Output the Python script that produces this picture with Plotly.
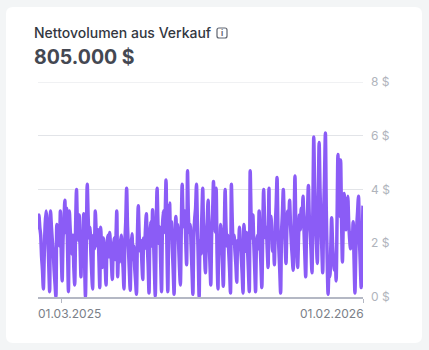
import plotly.graph_objects as go
from datetime import date, timedelta

START = date(2025, 2, 3)
values = [
 2.5,3.05,2.6,2.3,1.5,1.0,0.3,1.6,2.7,3.2,
 2.9,2.2,1.2,0.2,3.2,2.6,2.1,1.7,1.0,0.5,
 0,2.7,2.1,2.6,1.9,3.2,1.6,0.6,2.2,2.8,
 3.6,2.4,3.3,1.8,0.2,3.2,2.5,2.0,1.6,2.3,
 1.1,0.45,2.6,4.0,2.7,2.1,3.05,1.9,0.75,2.4,
 2.0,3.1,1.4,0,2.1,4.2,3.0,2.2,2.6,1.7,
 0.9,0.3,2.3,1.8,3.2,2.4,1.9,2.5,1.5,0.35,
 2.6,1.8,1.1,2.2,1.6,1.2,0.45,1.9,2.3,1.5,
 2.4,1.9,1.3,0.65,1.8,2.2,1.4,2.1,3.2,0.75,
 1.7,1.3,2.0,2.3,1.6,1.1,0.3,2.0,2.8,4.05,
 2.6,1.8,1.0,0.25,1.9,2.35,1.4,1.9,1.1,0.6,
 0.1,2.2,3.4,2.3,1.7,2.1,1.3,0.65,2.2,1.8,
 2.5,3.1,2.0,1.2,0.15,2.3,2.8,1.9,3.25,2.2,
 1.0,0.03,2.4,4.05,2.7,2.0,2.6,1.3,0.2,2.6,
 3.2,2.4,3.0,4.35,1.8,0.2,2.6,3.5,2.2,2.8,
 1.8,1.0,0.1,2.2,3.0,2.3,2.7,2.0,1.1,0.45,
 2.4,4.2,3.0,2.6,3.2,2.1,1.2,4.7,3.0,2.4,
 2.7,1.9,1.0,0.1,2.2,2.9,3.3,4.2,2.8,1.4,
 0,2.1,1.6,3.0,4.05,2.3,1.6,0.9,2.2,2.8,
 3.6,2.2,1.3,0.45,2.4,3.1,4.3,2.9,2.4,4.05,
 1.6,0.3,2.0,1.7,2.7,2.0,1.2,0.4,2.2,4.0,
 2.6,1.9,2.3,1.7,1.0,0.15,4.2,2.8,2.0,2.3,
 1.7,1.2,0.55,2.1,1.8,2.6,2.0,1.5,0.9,0.15,
 2.7,2.1,1.7,2.4,1.8,1.0,0.2,4.7,3.0,2.2,
 3.05,2.0,1.1,0.2,1.9,2.3,1.8,3.2,2.1,1.2,
 0.35,2.3,4.0,3.0,2.2,2.6,1.8,1.1,4.05,3.0,
 3.0,2.4,1.7,2.2,1.2,2.6,3.4,4.45,2.6,1.8,
 1.0,0.15,2.4,3.1,4.0,2.9,2.0,1.25,2.6,3.2,
 2.8,3.6,2.7,2.0,1.5,1.0,2.6,4.5,2.6,1.8,
 1.1,2.2,3.05,2.5,3.3,2.7,3.75,2.6,1.6,0.75,
 2.6,3.2,4.15,3.0,2.4,1.7,0.9,3.2,5.95,4.0,
 2.8,2.0,1.25,3.4,5.75,4.0,2.7,1.8,0.9,3.0,
 4.4,6.1,3.2,1.4,0.1,0.9,0.75,1.8,2.95,2.0,
 1.4,1.0,1.5,0.6,2.8,5.3,3.6,3.0,5.1,3.0,
 1.3,2.8,3.85,3.0,2.5,3.3,3.75,2.8,2.2,1.8,
 2.4,2.0,2.8,1.4,0.15,1.7,2.6,3.2,3.75,2.2,
 1.2,0.35,2.0,3.4,
]
y_ticks = [0, 2, 4, 6, 8]
y_labels = ["0 $", "2 $", "4 $", "6 $", "8 $"]
x_tick_dates = ["2025-03-01", "2026-02-01"]
x_tick_labels = ["01.03.2025", "01.02.2026"]
title_text = "Nettovolumen aus Verkauf"
total_text = "805.000 $"

W, H = 429, 350
L, R, T, B = 38, 363, 82, 297
px = lambda x: (x - L) / (R - L)
py = lambda y: (B - y) / (B - T)

dates = [START + timedelta(days=i) for i in range(len(values))]

fig = go.Figure(go.Scatter(
    x=dates, y=values, mode="lines", cliponaxis=False, hoverinfo="skip",
    line=dict(color="#8b5cf6", width=3.5, shape="spline", smoothing=0.7, simplify=False),
))

def rr(x0, y0, x1, y1, r):
    a, b, c, d = px(x0), py(y0), px(x1), py(y1)
    rx, ry = r / (R - L), r / (B - T)
    return (f"M {a+rx} {b} L {c-rx} {b} Q {c} {b} {c} {b-ry} L {c} {d+ry} Q {c} {d} {c-rx} {d} "
            f"L {a+rx} {d} Q {a} {d} {a} {d+ry} L {a} {b-ry} Q {a} {b} {a+rx} {b} Z")

shapes = [
    dict(type="path", xref="paper", yref="paper", path=rr(6, 7, 422, 343, 7),
         fillcolor="#ffffff", line=dict(width=0), layer="below"),
    dict(type="path", xref="paper", yref="paper", path=rr(217, 28, 227, 38, 2),
         fillcolor="rgba(0,0,0,0)", line=dict(color="#5f6470", width=1.2), layer="above"),
    dict(type="line", xref="paper", yref="y", x0=0, x1=1, y0=8, y1=8,
         line=dict(color="#e2e4e8", width=1), layer="below"),
]

def note(x, y, text, size, color, anchor="left", weight=400, shift=0):
    return dict(x=px(x), y=py(y), xref="paper", yref="paper", text=text, showarrow=False,
                xanchor=anchor, yanchor="middle", xshift=shift, borderpad=0,
                font=dict(family="Inter", size=size, color=color, weight=weight))

annotations = [
    note(34, 33, title_text, 14, "#33373f", weight=500, shift=-1),
    note(34, 57, total_text, 19.5, "#444852", weight=700, shift=-1),
    note(222, 33, "i", 8, "#5f6470", anchor="center", weight=700),
    note(L, 313, x_tick_labels[0], 12, "#7b8088", shift=-1),
    note(R, 313, x_tick_labels[1], 12, "#7b8088", anchor="right", shift=2),
]

fig.update_layout(
    width=W, height=H, autosize=False,
    paper_bgcolor="#f3f5f6", plot_bgcolor="rgba(0,0,0,0)",
    margin=dict(l=L, r=W - R, t=T, b=H - B, pad=0),
    showlegend=False, shapes=shapes, annotations=annotations,
    xaxis=dict(type="date", range=[START, START + timedelta(days=363)],
               tickvals=x_tick_dates, showticklabels=False, ticks="outside",
               ticklen=4, tickwidth=1, tickcolor="#b4b8c4", showgrid=False,
               showline=True, linecolor="#b4b8c4", linewidth=2, zeroline=False),
    yaxis=dict(range=[0, 8], side="right", tickvals=y_ticks, ticktext=y_labels,
               ticks="", ticklabelstandoff=7, showgrid=True, gridcolor="#e2e4e8", gridwidth=1,
               zeroline=False, showline=False,
               tickfont=dict(family="Inter", size=12, color="#b0b4bc")),
)

fig.write_html("out.html", config={"displayModeBar": False},
               post_script="document.body.style.margin='0';document.body.style.overflow='hidden';")
